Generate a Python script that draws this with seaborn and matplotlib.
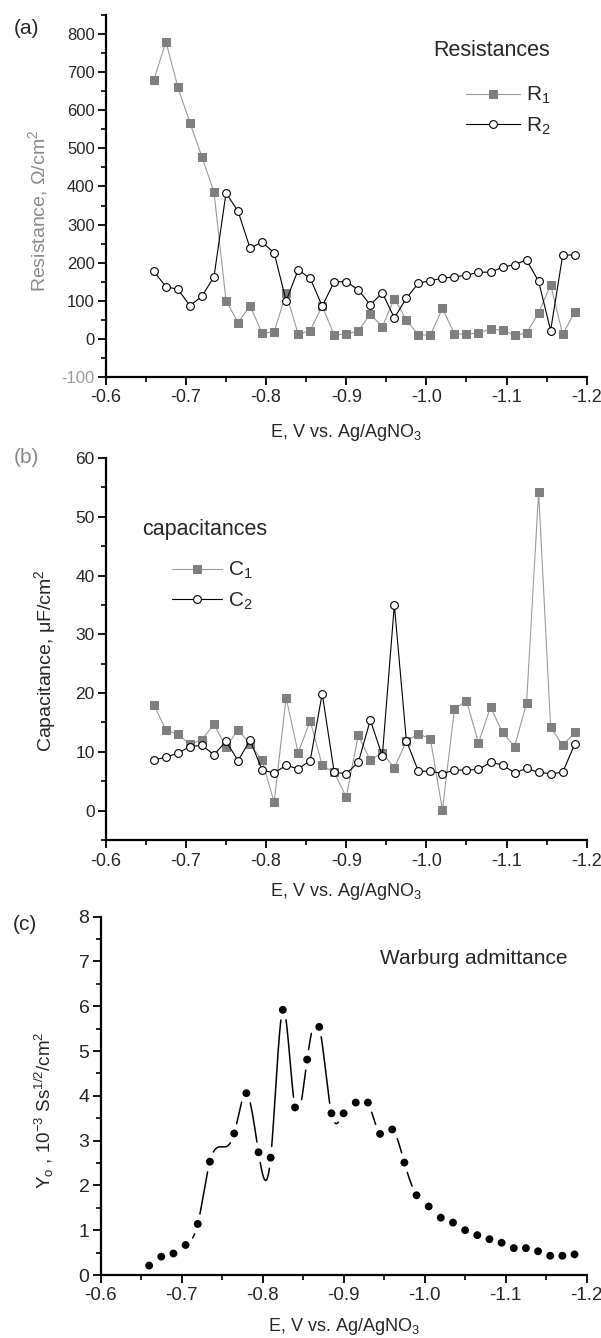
import matplotlib as mpl
mpl.use("Agg")
import numpy as np
import pandas as pd
import matplotlib.pyplot as plt
import seaborn as sns
from matplotlib.ticker import MultipleLocator, FormatStrFormatter

sns.set_theme(style="ticks")
plt.rcParams['font.family'] = ['Liberation Sans', 'DejaVu Sans']
plt.rcParams['mathtext.fontset'] = 'custom'
plt.rcParams['mathtext.rm'] = 'Liberation Sans'
plt.rcParams['mathtext.it'] = 'Liberation Sans:italic'
plt.rcParams['mathtext.default'] = 'regular'
plt.rcParams['axes.unicode_minus'] = False

# potential, V vs. Ag/AgNO3
potential = [-0.660, -0.675, -0.690, -0.705, -0.720, -0.735, -0.750, -0.765, -0.780,
             -0.795, -0.810, -0.825, -0.840, -0.855, -0.870, -0.885, -0.900, -0.915,
             -0.930, -0.945, -0.960, -0.975, -0.990, -1.005, -1.020, -1.035, -1.050,
             -1.065, -1.080, -1.095, -1.110, -1.125, -1.140, -1.155, -1.170, -1.185]

# (a) resistances, Ohm/cm2
r1 = [680, 780, 660, 567, 477, 385, 100, 43, 87, 15, 18, 120, 12, 22, 86, 10, 13, 21,
      65, 32, 106, 50, 10, 10, 80, 13, 13, 15, 26, 23, 10, 15, 68, 142, 12, 70]
r2 = [177, 137, 130, 87, 112, 163, 383, 335, 238, 254, 226, 100, 181, 159, 86, 150, 150, 129,
      89, 121, 55, 107, 146, 153, 159, 163, 167, 175, 175, 188, 195, 207, 151, 22, 219, 221]

# (b) capacitances, uF/cm2
c1 = [18.0, 13.7, 13.0, 11.3, 12.1, 14.7, 10.8, 13.8, 11.3, 8.6, 1.4, 19.2, 9.8, 15.3, 7.7, 6.5,
      2.3, 12.8, 8.6, 9.8, 7.3, 11.8, 13.1, 12.2, 0.1, 17.3, 18.7, 11.5, 17.6, 13.3, 10.9, 18.3,
      54.2, 14.2, 11.1, 13.3]
c2 = [8.6, 9.1, 9.8, 10.9, 11.1, 9.5, 11.8, 8.5, 12.0, 6.9, 6.4, 7.7, 7.1, 8.5, 19.9, 6.5,
      6.3, 8.2, 15.4, 9.3, 35.0, 11.9, 6.7, 6.7, 6.3, 6.9, 6.9, 7.0, 8.2, 7.8, 6.4, 7.2,
      6.5, 6.3, 6.5, 11.3]

# (c) Warburg admittance, 10^-3 S s^1/2 / cm2 (no symbol drawn at -0.750)
warburg_e = [-0.660, -0.675, -0.690, -0.705, -0.720, -0.735, -0.765, -0.780,
             -0.795, -0.810, -0.825, -0.840, -0.855, -0.870, -0.885, -0.900, -0.915,
             -0.930, -0.945, -0.960, -0.975, -0.990, -1.005, -1.020, -1.035, -1.050,
             -1.065, -1.080, -1.095, -1.110, -1.125, -1.140, -1.155, -1.170, -1.185]
warburg_y = [0.21, 0.41, 0.48, 0.67, 1.14, 2.53, 3.16, 4.06, 2.74, 2.62, 5.92, 3.74, 4.81,
             5.54, 3.61, 3.61, 3.85, 3.85, 3.15, 3.25, 2.51, 1.78, 1.53, 1.28, 1.17, 1.00,
             0.89, 0.80, 0.72, 0.60, 0.60, 0.53, 0.43, 0.43, 0.46]
# extra spline knot without a symbol
knot_e = [-0.750]
knot_y = [2.86]

W, H = 601, 1338
fig = plt.figure(figsize=(W / 100, H / 100), dpi=100)


def fig_axes(left, top, right, bottom):
    return fig.add_axes([left / W, 1 - bottom / H, (right - left) / W, (bottom - top) / H])


def style_axes(ax, ymajor, yminor, ysize, xsize):
    sns.despine(ax=ax)
    for s in ['left', 'bottom']:
        ax.spines[s].set_linewidth(1.6)
        ax.spines[s].set_color('black')
    ax.set_xlim(-0.6, -1.2)
    ax.xaxis.set_major_locator(MultipleLocator(0.1))
    ax.xaxis.set_minor_locator(MultipleLocator(0.05))
    ax.xaxis.set_major_formatter(FormatStrFormatter('%.1f'))
    ax.yaxis.set_major_locator(MultipleLocator(ymajor))
    ax.yaxis.set_minor_locator(MultipleLocator(yminor))
    ax.tick_params(which='major', direction='out', length=6, width=1.3, color='black')
    ax.tick_params(which='minor', direction='out', length=3.5, width=1.2, color='black')
    ax.tick_params(axis='x', labelsize=xsize, pad=3)
    ax.tick_params(axis='y', labelsize=ysize, pad=2)
    ax.set_facecolor('white')


def natural_spline(xk, yk, xs):
    xk = np.asarray(xk, float)
    yk = np.asarray(yk, float)
    n = len(xk)
    h = np.diff(xk)
    A = np.zeros((n, n))
    b = np.zeros(n)
    A[0, 0] = A[-1, -1] = 1
    for i in range(1, n - 1):
        A[i, i - 1] = h[i - 1]
        A[i, i] = 2 * (h[i - 1] + h[i])
        A[i, i + 1] = h[i]
        b[i] = 6 * ((yk[i + 1] - yk[i]) / h[i] - (yk[i] - yk[i - 1]) / h[i - 1])
    M = np.linalg.solve(A, b)
    idx = np.clip(np.searchsorted(xk, xs) - 1, 0, n - 2)
    x0, x1 = xk[idx], xk[idx + 1]
    hh = x1 - x0
    t1, t0 = x1 - xs, xs - x0
    return ((M[idx] * t1 ** 3 + M[idx + 1] * t0 ** 3) / (6 * hh)
            + (yk[idx] / hh - M[idx] * hh / 6) * t1
            + (yk[idx + 1] / hh - M[idx + 1] * hh / 6) * t0)


gray_line = '#9a9a9a'
gray_sym = '#7f7f7f'

# ---------------- (a) resistances ----------------
ax1 = fig_axes(105.8, 15, 586.7, 377)
df_a = pd.DataFrame({'E': potential, 'R1': r1, 'R2': r2})
sns.lineplot(data=df_a, x='E', y='R1', ax=ax1, color=gray_line, lw=0.8, marker='s',
             markersize=5.2, markerfacecolor=gray_sym, markeredgecolor=gray_sym,
             estimator=None, label='R$_1$', zorder=2)
sns.lineplot(data=df_a, x='E', y='R2', ax=ax1, color='black', lw=0.8, marker='o',
             markersize=5.6, markerfacecolor='white', markeredgecolor='black',
             markeredgewidth=0.8, estimator=None, label='R$_2$', zorder=3)
ax1.set_ylim(-100, 850)
style_axes(ax1, 100, 50, 12, 13)
for t in ax1.get_yticklabels():
    if t.get_text() == '-100':
        t.set_color('#9a9a9a')
ax1.set_xlabel('E, V vs. Ag/AgNO$_3$', fontsize=13, va='top')
ax1.xaxis.set_label_coords(0.5, -0.124)
ax1.set_ylabel('Resistance, Ω/cm$^2$', fontsize=14, color='#8a8a8a')
ax1.yaxis.set_label_coords(-0.116, 0.459)
leg = ax1.legend(loc='center left', bbox_to_anchor=(466 / W, 1 - 111 / H),
                 bbox_transform=fig.transFigure, frameon=False, fontsize=15,
                 handlelength=2.6, handletextpad=0.3, labelspacing=0.45, borderpad=0,
                 borderaxespad=0)
fig.text(433 / W, 1 - 50 / H, 'Resistances', fontsize=15.5, va='center', ha='left')
fig.text(26 / W, 1 - 28 / H, '(a)', fontsize=15, va='center', ha='center')

# ---------------- (b) capacitances ----------------
ax2 = fig_axes(105.8, 458, 586.7, 840)
df_b = pd.DataFrame({'E': potential, 'C1': c1, 'C2': c2})
sns.lineplot(data=df_b, x='E', y='C1', ax=ax2, color=gray_line, lw=0.8, marker='s',
             markersize=5.2, markerfacecolor=gray_sym, markeredgecolor=gray_sym,
             estimator=None, label='C$_1$', zorder=2)
sns.lineplot(data=df_b, x='E', y='C2', ax=ax2, color='black', lw=0.8, marker='o',
             markersize=5.6, markerfacecolor='white', markeredgecolor='black',
             markeredgewidth=0.8, estimator=None, label='C$_2$', zorder=3)
ax2.set_ylim(-5, 60)
style_axes(ax2, 10, 5, 12.5, 13)
ax2.set_xlabel('E, V vs. Ag/AgNO$_3$', fontsize=13, va='top')
ax2.xaxis.set_label_coords(0.5, -0.107)
ax2.set_ylabel('Capacitance, μF/cm$^2$', fontsize=14)
ax2.yaxis.set_label_coords(-0.099, 0.469)
ax2.legend(loc='center left', bbox_to_anchor=(172 / W, 1 - 586 / H),
           bbox_transform=fig.transFigure, frameon=False, fontsize=15,
           handlelength=2.4, handletextpad=0.3, labelspacing=0.45, borderpad=0,
           borderaxespad=0)
fig.text(142 / W, 1 - 529 / H, 'capacitances', fontsize=15.5, va='center', ha='left')
fig.text(26 / W, 1 - 458 / H, '(b)', fontsize=15, va='center', ha='center', color='#8a8a8a')

# ---------------- (c) Warburg admittance ----------------
ax3 = fig_axes(100.5, 916.7, 586.7, 1275)
ax3.set_ylim(0, 8)
style_axes(ax3, 1, 0.5, 14, 13.5)

# spline connection with gaps around the symbols (Origin style)
knots = sorted(zip([-e for e in warburg_e + knot_e], warburg_y + knot_y))
ku = [k[0] for k in knots]
ky = [k[1] for k in knots]
us = np.linspace(ku[0], ku[-1], 3000)
ys = natural_spline(ku, ky, us)
pts = ax3.transData.transform(np.column_stack([-us, ys]))
dots = ax3.transData.transform(np.column_stack([warburg_e, warburg_y]))
dist = np.sqrt(((pts[:, None, :] - dots[None, :, :]) ** 2).sum(axis=2)).min(axis=1)
ys_gap = np.where(dist < 10, np.nan, ys)
ax3.plot(-us, ys_gap, color='black', lw=1.1, zorder=2)

df_c = pd.DataFrame({'E': warburg_e, 'Y': warburg_y})
sns.scatterplot(data=df_c, x='E', y='Y', ax=ax3, color='black', s=32,
                edgecolor='none', zorder=3, legend=False)
ax3.set_xlabel('E, V vs. Ag/AgNO$_3$', fontsize=13, va='top')
ax3.xaxis.set_label_coords(0.5, -0.114)
ax3.set_ylabel('Y$_o$ , 10$^{-3}$ Ss$^{1/2}$/cm$^2$', fontsize=13.5)
ax3.yaxis.set_label_coords(-0.092, 0.46)
fig.text(380 / W, 1 - 958 / H, 'Warburg admittance', fontsize=15, va='center', ha='left')
fig.text(25 / W, 1 - 925 / H, '(c)', fontsize=15, va='center', ha='center')

fig.savefig('out.png', dpi=100, facecolor='white')
plt.close(fig)
